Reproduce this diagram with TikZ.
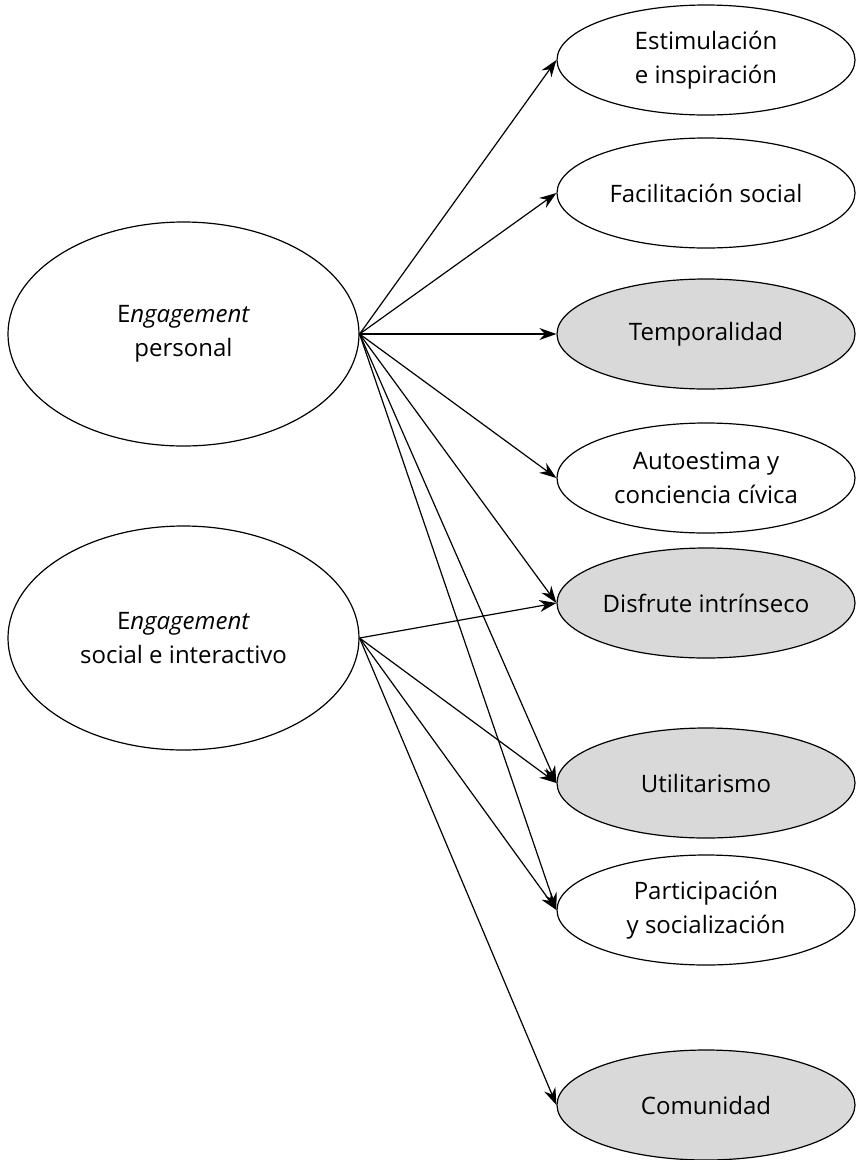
\documentclass[tikz,border=0pt]{standalone}
\usepackage{fontspec}
\setmainfont{Open Sans}
\usetikzlibrary{shapes.geometric,arrows.meta}
\definecolor{fillgray}{RGB}{217,217,217}
\tikzset{
  bigell/.style={ellipse,draw,line width=1.2pt,minimum width=351pt,minimum height=224pt,inner sep=0pt,align=center,font=\fontsize{24}{34}\selectfont},
  smallell/.style={ellipse,draw,line width=1.2pt,minimum width=298pt,minimum height=110pt,inner sep=0pt,align=center,font=\fontsize{24}{34}\selectfont},
  shaded/.style={fill=fillgray},
  conn/.style={line width=1.2pt,-{Stealth[length=17pt,width=12pt]}}
}
\begin{document}
\begin{tikzpicture}[x=1pt,y=-1pt]
\useasboundingbox (0,0) rectangle (856,1160);
\node[bigell] (pers) at (183.5,334) {E\textit{ngagement}\\personal};
\node[bigell] (soc) at (183.5,638) {E\textit{ngagement}\\social e interactivo};
\node[smallell] (est) at (706,60) {Estimulación\\e inspiración};
\node[smallell] (fac) at (706,193) {Facilitación social};
\node[smallell,shaded] (tem) at (706,334) {Temporalidad};
\node[smallell] (aut) at (706,478) {Autoestima y\\conciencia cívica};
\node[smallell,shaded] (dis) at (706,603) {Disfrute intrínseco};
\node[smallell,shaded] (uti) at (706,783) {Utilitarismo};
\node[smallell] (par) at (706,910) {Participación\\y socialización};
\node[smallell,shaded] (com) at (706,1105) {Comunidad};
\foreach \t in {est,fac,tem,aut,dis,uti,par}
  \draw[conn] (pers.east) -- (\t.west);
\foreach \t in {dis,uti,par,com}
  \draw[conn] (soc.east) -- (\t.west);
\end{tikzpicture}
\end{document}
